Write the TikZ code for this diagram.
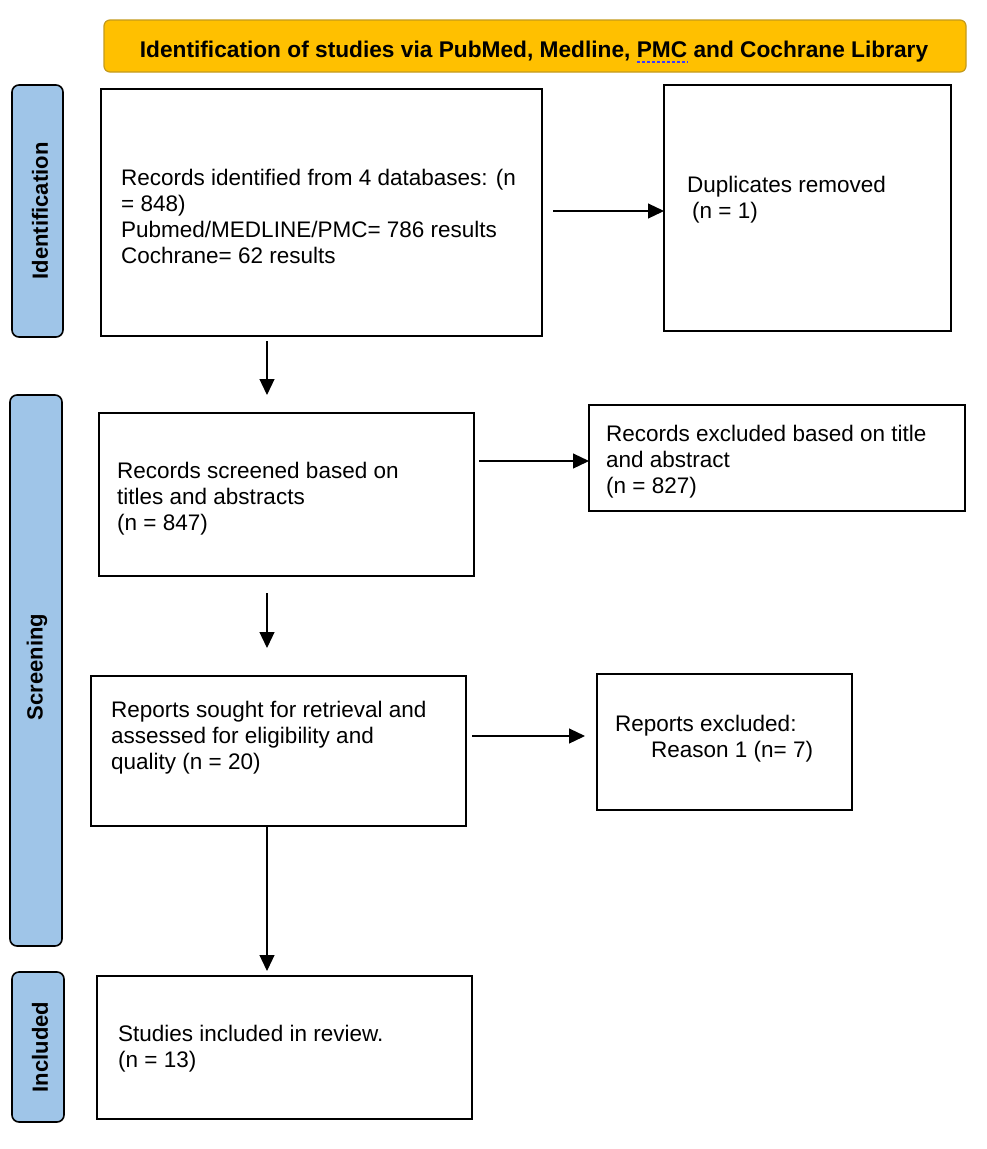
\documentclass[tikz,border=0pt]{standalone}
\usepackage{fontspec}
\setmainfont{Liberation Sans}
\usetikzlibrary{arrows.meta}
\definecolor{hdrfill}{HTML}{FFC000}
\definecolor{hdrline}{HTML}{C49A1C}
\definecolor{barfill}{HTML}{9FC5E8}
\definecolor{squig}{HTML}{3C3CFF}
\begin{document}
\begin{tikzpicture}[x=1pt,y=-1pt,
  box/.style={draw=black,line width=1.6pt,inner sep=0pt,outer sep=0pt},
  bar/.style={draw=black,fill=barfill,line width=1.6pt,rounded corners=7pt,inner sep=0pt,outer sep=0pt},
  barlabel/.style={rotate=90,font=\bfseries\fontsize{22}{26}\selectfont,inner sep=0pt},
  hdr/.style={draw=hdrline,fill=hdrfill,line width=1.2pt,rounded corners=6pt,inner sep=0pt},
  txt/.style={anchor=base west,inner sep=0pt,align=left,font=\fontsize{22.5}{25.8}\selectfont},
  arr/.style={line width=1.2pt,-{Triangle[length=16pt,width=15pt]}}]
\useasboundingbox (0,0) rectangle (986,1149);
\fill[white] (0,0) rectangle (986,1149);

% header
\node[hdr,minimum width=862pt,minimum height=52pt] (hd) at (535,46) {};
\node[inner sep=0pt,anchor=base,font=\bfseries\fontsize{22.7}{26}\selectfont] (hdt) at (534,57)
  {Identification of studies via PubMed, Medline, PMC and Cochrane Library};
\draw[squig,line width=1.5pt,dash pattern=on 3pt off 2pt] (637,62) -- (688,62);

% side bars
\node[bar,minimum width=51pt,minimum height=252pt] (sb1) at (37.5,211) {};
\node[barlabel] (sl1) at (40,211) {Identification};
\node[bar,minimum width=52pt,minimum height=551pt] (sb2) at (36,670.5) {};
\node[barlabel] (sl2) at (37,667) {Screening};
\node[bar,minimum width=52pt,minimum height=150pt] (sb3) at (38,1047) {};
\node[barlabel] (sl3) at (40,1047) {Included};

% boxes
\node[box,minimum width=441pt,minimum height=247pt] (b1) at (321.5,212.5) {};
\node[box,minimum width=287pt,minimum height=246pt] (b2) at (807.5,208) {};
\node[box,minimum width=375pt,minimum height=163pt] (b3) at (286.5,494.5) {};
\node[box,minimum width=376pt,minimum height=106pt] (b4) at (777,458) {};
\node[box,minimum width=375pt,minimum height=150pt] (b5) at (278.5,751) {};
\node[box,minimum width=255pt,minimum height=136pt] (b6) at (724.5,742) {};
\node[box,minimum width=375pt,minimum height=143pt] (b7) at (284.5,1047.5) {};

% texts (base anchor = baseline of the last line)
\node[txt] (t1) at (121,263) {Records identified from 4 databases: (n\\= 848)\\Pubmed/MEDLINE/PMC= 786 results\\Cochrane= 62 results};
\node[txt] (t2) at (687,218) {Duplicates removed\\\hspace*{5pt}(n = 1)};
\node[txt] (t3) at (117,530) {Records screened based on\\titles and abstracts\\(n = 847)};
\node[txt] (t4) at (606,493) {Records excluded based on title\\and abstract\\(n = 827)};
\node[txt] (t5) at (111,769) {Reports sought for retrieval and\\assessed for eligibility and\\quality (n = 20)};
\node[txt] (t6) at (615,757) {Reports excluded:\\\hspace*{36pt}Reason 1 (n= 7)};
\node[txt] (t7) at (118,1067) {Studies included in review.\\(n = 13)};

% connectors
\coordinate (cx) at (267,0);
\coordinate (r1) at (0,211);
\coordinate (r2) at (0,461);
\coordinate (r3) at (0,736);
\draw[arr,shorten <=5pt,shorten >=18pt] (b1.south -| cx) -- (b3.north -| cx);
\draw[arr,shorten <=17pt,shorten >=28pt] (b3.south -| cx) -- (b5.north -| cx);
\draw[arr,shorten >=5pt] (b5.south -| cx) -- (b7.north -| cx);
\draw[arr,shorten <=11pt] (b1.east |- r1) -- (b2.west |- r1);
\draw[arr,shorten <=5pt] (b3.east |- r2) -- (b4.west |- r2);
\draw[arr,shorten <=6pt,shorten >=12pt] (b5.east |- r3) -- (b6.west |- r3);
\end{tikzpicture}
\end{document}
